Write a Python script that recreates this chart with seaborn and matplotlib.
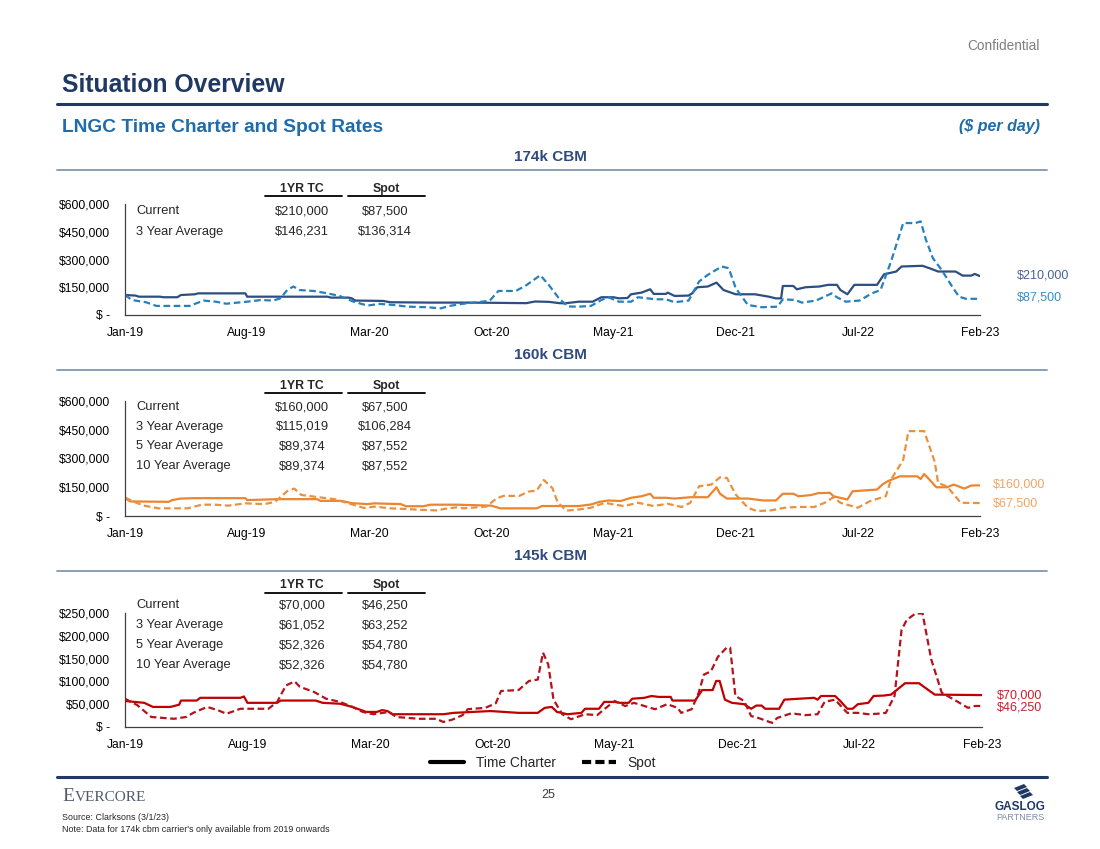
import pandas as pd
import matplotlib
matplotlib.use('Agg')
import matplotlib.pyplot as plt
from matplotlib.lines import Line2D
from matplotlib.patches import Polygon
import seaborn as sns

# x positions are months since Jan-2019, values in $k per day
tick_labels = ['Jan-19', 'Aug-19', 'Mar-20', 'Oct-20', 'May-21', 'Dec-21', 'Jul-22', 'Feb-23']

# 174k CBM
tc174_m = [0, 0.6, 0.8, 2.0, 2.2, 3.0, 3.2, 4.0, 4.2, 6.9, 7.0, 11.6, 11.8, 12.8, 13.0, 13.2, 14.8, 15.2, 17.5, 19.5,
           21.0, 23.0, 23.5, 24.3, 24.9, 25.2, 26.0, 26.8, 27.3, 28.0, 28.3, 28.8, 29.0, 29.6, 30.1, 30.3, 31.0, 31.1,
           31.5, 32.3, 32.5, 32.8, 33.4, 33.9, 34.3, 35.0, 36.1, 36.9, 37.3, 37.6, 37.7, 38.3, 38.5, 39.0, 39.8, 40.3,
           40.8, 41.0, 41.4, 41.8, 43.1, 43.5, 44.2, 44.5, 45.7, 46.1, 46.6, 47.6, 48.0, 48.5, 48.7, 49.0]
tc174_v = [108, 105, 99, 99, 96, 96, 108, 112, 117, 117, 99, 99, 94, 94, 90, 78, 76, 69, 67, 67,
           66, 64, 73, 71, 64, 63, 72, 72, 96, 96, 90, 92, 112, 121, 139, 114, 114, 121,
           103, 105, 117, 150, 154, 175, 135, 112, 112, 99, 90, 90, 157, 157, 139, 150, 154, 163,
           163, 135, 112, 163, 163, 220, 235, 262, 266, 253, 235, 235, 213, 213, 222, 210]
sp174_m = [0, 0.4, 1.2, 1.8, 3.7, 4.5, 5.2, 5.8, 7.0, 7.8, 8.5, 8.9, 9.3, 9.65, 10.0, 10.8, 11.6, 12.3, 13.1, 13.9,
           14.6, 15.4, 16.2, 17.3, 18.1, 18.6, 19.3, 20.1, 20.9, 21.4, 22.4, 23.0, 23.8, 24.3, 24.9, 25.4, 26.0, 26.7,
           27.3, 27.7, 28.3, 29.0, 29.4, 30.4, 31.0, 31.5, 32.3, 32.9, 33.4, 34.2, 34.6, 35.0, 35.7, 36.5, 37.4, 37.7,
           38.4, 38.8, 39.6, 40.5, 40.8, 41.3, 42.1, 42.8, 43.3, 43.9, 44.6, 45.3, 45.6, 45.9, 46.3, 46.8, 47.4, 47.8,
           48.2, 49.0]
sp174_v = [108, 81, 69, 49, 49, 78, 72, 61, 72, 81, 78, 90, 135, 154, 135, 130, 117, 103, 72, 51,
           60, 54, 45, 42, 36, 49, 60, 68, 77, 130, 130, 161, 215, 161, 86, 46, 45, 49,
           81, 96, 72, 72, 96, 85, 85, 69, 78, 181, 217, 262, 253, 145, 54, 42, 45, 85,
           81, 67, 78, 117, 96, 72, 78, 117, 135, 289, 497, 497, 506, 407, 307, 244, 154, 99,
           87.5, 87.5]

# 160k CBM
tc160_m = [0, 0.3, 2.5, 2.7, 3.2, 4.0, 6.9, 7.0, 8.8, 11.0, 11.2, 12.4, 13.0, 13.9, 14.3, 15.8, 16.1, 17.1, 17.5, 19.0,
           21.0, 21.5, 23.6, 23.9, 24.8, 26.0, 26.7, 27.2, 27.7, 28.4, 29.0, 29.6, 30.1, 30.3, 31.0, 31.5, 32.4, 33.4,
           33.9, 34.1, 34.5, 35.7, 36.6, 37.3, 37.7, 38.3, 38.6, 39.3, 39.7, 40.4, 40.6, 41.4, 41.7, 43.1, 43.4, 43.7,
           44.4, 45.4, 45.6, 45.8, 46.1, 46.5, 47.1, 47.5, 48.1, 48.5, 49.0]
tc160_v = [93, 76, 74, 83, 91, 93, 93, 83, 88, 88, 79, 79, 67, 62, 66, 62, 51, 51, 59, 59,
           54, 40, 40, 52, 52, 52, 60, 74, 81, 78, 95, 103, 116, 95, 95, 91, 98, 98,
           150, 116, 91, 91, 81, 81, 116, 116, 103, 109, 119, 121, 103, 86, 129, 138, 164, 181,
           207, 207, 193, 219, 190, 150, 150, 164, 143, 159, 160]
sp160_m = [0, 0.6, 1.1, 1.9, 3.6, 4.4, 5.2, 5.9, 6.9, 8.0, 8.6, 9.3, 9.7, 10.1, 11.0, 12.0, 12.8, 13.7, 14.3, 15.2,
           16.0, 17.0, 17.9, 18.3, 19.0, 19.4, 20.7, 21.3, 21.7, 22.6, 23.1, 23.6, 24.0, 24.5, 24.8, 25.3, 26.1, 26.7,
           27.5, 28.0, 28.6, 29.4, 30.3, 31.1, 31.9, 32.4, 32.9, 33.6, 34.1, 34.5, 35.0, 35.7, 36.2, 37.0, 37.8, 38.5,
           39.5, 40.1, 40.6, 41.0, 42.0, 42.7, 43.6, 43.9, 44.6, 44.9, 45.8, 46.4, 46.6, 47.1, 47.9, 49.0]
sp160_v = [96, 71, 54, 40, 40, 59, 59, 54, 66, 62, 74, 130, 143, 110, 99, 88, 66, 42, 49, 40,
           37, 32, 29, 37, 45, 40, 49, 92, 105, 105, 127, 133, 188, 145, 70, 28, 35, 43,
           69, 60, 52, 69, 52, 64, 47, 69, 155, 164, 202, 198, 112, 43, 26, 29, 43, 47,
           47, 69, 98, 69, 43, 78, 103, 190, 293, 443, 443, 284, 172, 155, 69, 67.5]

# 145k CBM
tc145_m = [0, 1.1, 1.6, 2.6, 3.1, 3.2, 4.1, 4.3, 6.6, 6.8, 7.0, 8.7, 8.9, 10.9, 11.3, 12.3, 13.0, 13.8, 14.4, 14.7,
           15.0, 15.3, 18.2, 18.8, 20.9, 22.5, 23.6, 24.0, 24.4, 24.7, 25.3, 26.1, 26.3, 27.1, 27.4, 28.0, 28.3, 28.8,
           29.0, 29.7, 30.1, 30.5, 31.2, 31.3, 32.6, 33.0, 33.6, 33.8, 34.0, 34.3, 34.7, 35.4, 35.8, 36.1, 36.4, 36.6,
           37.4, 37.7, 39.4, 39.6, 39.8, 40.6, 40.9, 41.3, 41.6, 41.9, 42.5, 42.8, 43.4, 43.8, 44.6, 45.4, 45.9, 46.3,
           49.0]
tc145_v = [57, 53, 44, 44, 49, 58, 58, 64, 64, 67, 53, 53, 58, 58, 53, 51, 44, 33, 33, 37,
           35, 28, 28, 31, 35, 31, 31, 42, 44, 33, 28, 31, 40, 40, 55, 55, 53, 53,
           62, 64, 68, 66, 66, 58, 58, 81, 81, 101, 101, 60, 53, 50, 40, 47, 47, 40,
           40, 60, 64, 60, 68, 68, 57, 40, 40, 50, 53, 68, 69, 71, 96, 96, 82, 71,
           70]
sp145_m = [0, 0.7, 1.5, 2.8, 3.5, 3.9, 4.7, 5.3, 5.8, 6.6, 8.2, 8.7, 9.2, 9.7, 10.0, 10.8, 11.5, 12.3, 13.0, 13.6,
           14.2, 15.1, 15.5, 16.8, 17.8, 18.2, 18.7, 19.3, 19.6, 20.6, 21.2, 21.5, 22.5, 23.1, 23.6, 23.9, 24.2, 24.5,
           25.0, 25.5, 26.3, 27.0, 27.4, 28.0, 28.6, 29.1, 29.7, 30.3, 31.0, 31.6, 31.8, 32.4, 32.8, 33.1, 33.5, 33.9,
           34.4, 34.6, 34.9, 35.4, 35.8, 36.2, 37.0, 37.3, 38.1, 38.9, 39.6, 40.0, 40.6, 41.1, 41.3, 41.9, 42.5, 43.0,
           43.5, 44.0, 44.4, 44.7, 45.2, 45.6, 46.1, 46.7, 47.4, 48.2, 48.6, 49.0]
sp145_v = [62, 48, 22, 18, 22, 31, 44, 37, 29, 40, 40, 55, 91, 100, 88, 77, 62, 55, 44, 33,
           28, 33, 22, 18, 18, 11, 16, 26, 39, 42, 52, 79, 81, 101, 104, 163, 137, 60,
           28, 17, 28, 26, 39, 57, 46, 53, 46, 39, 50, 42, 31, 39, 75, 115, 122, 154,
           174, 174, 68, 57, 24, 20, 9, 20, 30, 26, 28, 55, 60, 39, 31, 31, 28, 29,
           31, 68, 213, 235, 249, 249, 148, 75, 60, 42, 46, 46.25]

# summary tables
row_names = ['Current', '3 Year Average', '5 Year Average', '10 Year Average']
tc174_tbl = ['$210,000', '$146,231']
sp174_tbl = ['$87,500', '$136,314']
tc160_tbl = ['$160,000', '$115,019', '$89,374', '$89,374']
sp160_tbl = ['$67,500', '$106,284', '$87,552', '$87,552']
tc145_tbl = ['$70,000', '$61,052', '$52,326', '$52,326']
sp145_tbl = ['$46,250', '$63,252', '$54,780', '$54,780']

W, H = 1100, 849
NAVY = '#1F3864'
BLUE = '#1F6CAB'
RULE = '#8497B0'

sns.set_style('white')
plt.rcParams['font.family'] = ['Liberation Sans', 'DejaVu Sans']

fig = plt.figure(figsize=(11, 8.49), dpi=100)


def fx(px):
    return px / W


def fy(py):
    return 1 - py / H


def hline(x0, x1, y, color, lw):
    fig.add_artist(Line2D([fx(x0), fx(x1)], [fy(y), fy(y)], transform=fig.transFigure, color=color, lw=lw))


def ftext(x, y, s, **kw):
    fig.text(fx(x), fy(y), s, **kw)


# header
ftext(1040, 46, 'Confidential', ha='right', va='center', fontsize=9.8, color='#7F7F7F')
ftext(62, 85, 'Situation Overview', ha='left', va='center', fontsize=17.8, fontweight='bold', color=NAVY)
hline(57, 1047, 104, NAVY, 2.2)
ftext(62, 127, 'LNGC Time Charter and Spot Rates', ha='left', va='center', fontsize=13.8, fontweight='bold', color=BLUE)
ftext(1040, 127, '($ per day)', ha='right', va='center', fontsize=11.5, fontweight='bold', style='italic', color=BLUE)

panels = [
    dict(title='174k CBM', title_y=157, rule_y=170, box=(125, 204, 980, 315),
         tc=(tc174_m, tc174_v), sp=(sp174_m, sp174_v), colors=('#2C4E80', '#2680BD'),
         lbl_colors=('#4A6491', '#3A8DC5'), lbl_x=1017, lbl_y=(276, 298),
         ymax=600, ystep=150, tbl_y=(189, 196, 211, 21), tbl=(tc174_tbl, sp174_tbl)),
    dict(title='160k CBM', title_y=355, rule_y=370, box=(125, 401, 980, 516),
         tc=(tc160_m, tc160_v), sp=(sp160_m, sp160_v), colors=('#EC8530', '#E9913F'),
         lbl_colors=('#F2A563', '#F2A563'), lbl_x=993, lbl_y=(485, 503),
         ymax=600, ystep=150, tbl_y=(386, 393, 407, 19.7), tbl=(tc160_tbl, sp160_tbl)),
    dict(title='145k CBM', title_y=556, rule_y=571, box=(125, 613, 982, 727),
         tc=(tc145_m, tc145_v), sp=(sp145_m, sp145_v), colors=('#C00000', '#B5121B'),
         lbl_colors=('#C8202A', '#C8202A'), lbl_x=997, lbl_y=(696, 707),
         ymax=250, ystep=50, tbl_y=(585, 593, 605, 20), tbl=(tc145_tbl, sp145_tbl)),
]

for p in panels:
    ftext(550, p['title_y'], p['title'], ha='center', va='center', fontsize=11, fontweight='bold', color='#2F4B7C')
    hline(57, 1047, p['rule_y'], RULE, 1.3)

    l, t, r, b = p['box']
    ax = fig.add_axes([fx(l), fy(b), fx(r) - fx(l), fy(t) - fy(b)])
    ax.patch.set_alpha(0)

    df = pd.concat([
        pd.DataFrame({'month': p['tc'][0], 'rate': [v * 1000 for v in p['tc'][1]], 'kind': 'Time Charter'}),
        pd.DataFrame({'month': p['sp'][0], 'rate': [v * 1000 for v in p['sp'][1]], 'kind': 'Spot'}),
    ])
    sns.lineplot(data=df, x='month', y='rate', hue='kind', style='kind',
                 palette={'Time Charter': p['colors'][0], 'Spot': p['colors'][1]},
                 dashes={'Time Charter': '', 'Spot': (3, 1.6)},
                 linewidth=1.6, legend=False, ax=ax, estimator=None, sort=False)

    ax.set_xlim(0, 49)
    ax.set_ylim(0, p['ymax'] * 1000)
    ax.set_xticks(list(range(0, 50, 7)))
    ax.set_xticklabels(tick_labels)
    yt = list(range(0, p['ymax'] + 1, p['ystep']))
    ax.set_yticks([v * 1000 for v in yt])
    ax.set_yticklabels(['$ -' if v == 0 else f'${v * 1000:,}' for v in yt])
    ax.set_xlabel('')
    ax.set_ylabel('')
    for s in ['top', 'right']:
        ax.spines[s].set_visible(False)
    for s in ['left', 'bottom']:
        ax.spines[s].set_color('#404040')
        ax.spines[s].set_linewidth(0.9)
    ax.tick_params(axis='both', direction='out', length=4.5, width=0.9, color='#404040',
                   labelsize=8.7, labelcolor='black')
    ax.tick_params(axis='y', pad=6)
    ax.tick_params(axis='x', pad=4)

    # summary table
    hy, uy, ry0, dy = p['tbl_y']
    ftext(302, hy, '1YR TC', ha='center', va='center', fontsize=8.8, fontweight='bold')
    ftext(386, hy, 'Spot', ha='center', va='center', fontsize=8.8, fontweight='bold')
    hline(265, 342, uy, 'black', 1.3)
    hline(348, 425, uy, 'black', 1.3)
    tc_col, sp_col = p['tbl']
    for i in range(len(tc_col)):
        y = ry0 + i * dy
        ftext(136, y, row_names[i], ha='left', va='center', fontsize=9.3)
        ftext(302, y, tc_col[i], ha='center', va='center', fontsize=9.3)
        ftext(385, y, sp_col[i], ha='center', va='center', fontsize=9.3)

    # current value labels
    ftext(p['lbl_x'], p['lbl_y'][0], tc_col[0], ha='left', va='center', fontsize=9, color=p['lbl_colors'][0])
    ftext(p['lbl_x'], p['lbl_y'][1], sp_col[0], ha='left', va='center', fontsize=9, color=p['lbl_colors'][1])

# legend
handles = [Line2D([], [], color='black', lw=3, label='Time Charter'),
           Line2D([], [], color='black', lw=3, dashes=(2.2, 1.0), label='Spot')]
fig.legend(handles=handles, loc='center', bbox_to_anchor=(fx(543), fy(763)), ncol=2, frameon=False,
           fontsize=9.9, handlelength=2.5, columnspacing=1.9, handletextpad=0.85)

# footer
hline(57, 1047, 777, NAVY, 2.2)
ftext(62, 801, 'E', ha='left', va='baseline', fontsize=14, family='Liberation Serif', color='#4F5B6B')
ftext(75, 801, 'VERCORE', ha='left', va='baseline', fontsize=11, family='Liberation Serif', color='#4F5B6B')
ftext(548, 795, '25', ha='center', va='center', fontsize=9, color='#404040')
ftext(62, 817, 'Source: Clarksons (3/1/23)', ha='left', va='center', fontsize=6.4)
ftext(62, 829, "Note: Data for 174k cbm carrier's only available from 2019 onwards", ha='left', va='center',
      fontsize=6.4)

# GasLog mark
for k in range(3):
    ox, oy = 1014 + k * 3, 786 + k * 4
    pts = [(fx(a), fy(c)) for a, c in [(ox, oy + 2), (ox + 10, oy - 2), (ox + 13, oy + 1), (ox + 3, oy + 5)]]
    fig.add_artist(Polygon(pts, closed=True, transform=fig.transFigure, color=NAVY, lw=0))
ftext(1020, 807, 'GASLOG', ha='center', va='center', fontsize=8.5, fontweight='bold', color=NAVY)
ftext(1020, 818, 'PARTNERS', ha='center', va='center', fontsize=6.5, color='#7F8FA6')

fig.savefig('out.png', dpi=100)
